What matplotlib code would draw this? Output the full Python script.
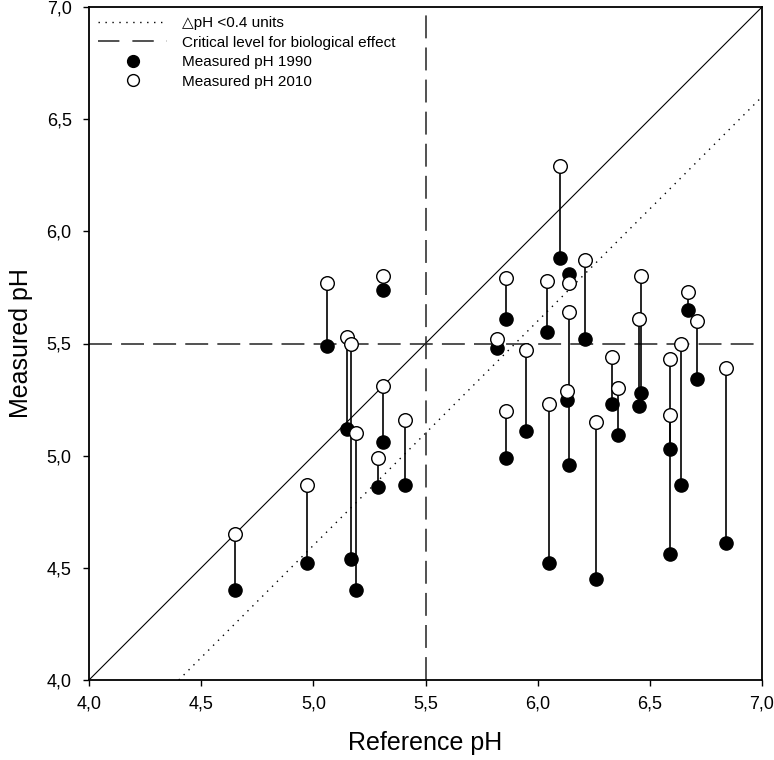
import matplotlib
matplotlib.use("Agg")
import matplotlib.pyplot as plt
from matplotlib.lines import Line2D
from matplotlib.ticker import FuncFormatter
import numpy as np

plt.rcParams['font.family'] = ['Liberation Sans', 'DejaVu Sans']

# Data
ref_ph = [4.65, 4.97, 5.06, 5.15, 5.17, 5.19, 5.29, 5.31, 5.31, 5.41,
          5.82, 5.86, 5.86, 5.95, 6.04, 6.05, 6.10, 6.14, 6.14, 6.13,
          6.21, 6.26, 6.33, 6.36, 6.45, 6.46, 6.59, 6.59, 6.64, 6.67,
          6.71, 6.84]
ph_1990 = [4.40, 4.52, 5.49, 5.12, 4.54, 4.40, 4.86, 5.06, 5.74, 4.87,
           5.48, 5.61, 4.99, 5.11, 5.55, 4.52, 5.88, 5.81, 4.96, 5.25,
           5.52, 4.45, 5.23, 5.09, 5.22, 5.28, 5.03, 4.56, 4.87, 5.65,
           5.34, 4.61]
ph_2010 = [4.65, 4.87, 5.77, 5.53, 5.50, 5.10, 4.99, 5.31, 5.80, 5.16,
           5.52, 5.79, 5.20, 5.47, 5.78, 5.23, 6.29, 5.77, 5.64, 5.29,
           5.87, 5.15, 5.44, 5.30, 5.61, 5.80, 5.43, 5.18, 5.50, 5.73,
           5.60, 5.39]

critical_level = 5.5
delta_ph = 0.4
axis_range = [4.0, 7.0]
tick_values = [4.0, 4.5, 5.0, 5.5, 6.0, 6.5, 7.0]

fig = plt.figure(figsize=(7.74, 7.60), dpi=100)
ax = fig.add_axes([89 / 774, 1 - 680 / 760, 673 / 774, 673 / 760])

# reference lines
x_line = np.array(axis_range)
ax.plot(x_line, x_line, color='black', lw=0.8, zorder=1)
x_dot = np.array([axis_range[0] + delta_ph, axis_range[1]])
ax.plot(x_dot, x_dot - delta_ph, color='black', lw=1.0,
        linestyle=(0, (1, 4)), zorder=1)
ax.axhline(critical_level, color='#222222', lw=1.1, dashes=(15, 6), zorder=1)
ax.axvline(critical_level, color='#222222', lw=1.1, dashes=(15, 6), zorder=1)

# stems and markers
ax.vlines(ref_ph, ph_1990, ph_2010, color='black', lw=1.2, zorder=2)
ax.plot(ref_ph, ph_1990, linestyle='none', marker='o', markersize=9.5,
        markerfacecolor='black', markeredgecolor='black', zorder=3)
ax.plot(ref_ph, ph_2010, linestyle='none', marker='o', markersize=9.8,
        markerfacecolor='white', markeredgecolor='black', markeredgewidth=1.0,
        zorder=4)

ax.set_xlim(axis_range)
ax.set_ylim(axis_range)
ax.set_xticks(tick_values)
ax.set_yticks(tick_values)
fmt = FuncFormatter(lambda v, p: f"{v:.1f}".replace('.', ','))
ax.xaxis.set_major_formatter(fmt)
ax.yaxis.set_major_formatter(fmt)
ax.tick_params(direction='out', length=4.5, width=1.0, labelsize=13,
               colors='black')
ax.tick_params(axis='x', pad=7)
ax.tick_params(axis='y', pad=8)
for s in ax.spines.values():
    s.set_linewidth(1.3)

ax.set_xlabel('Reference pH', fontsize=18, labelpad=13)
ax.set_ylabel('Measured pH', fontsize=18, labelpad=10)

handles = [
    Line2D([], [], color='black', lw=1.0, linestyle=(0, (1, 4))),
    Line2D([], [], color='#222222', lw=1.1, dashes=(14, 8.5)),
    Line2D([], [], linestyle='none', marker='o', markersize=8.5,
           markerfacecolor='black', markeredgecolor='black'),
    Line2D([], [], linestyle='none', marker='o', markersize=8.5,
           markerfacecolor='white', markeredgecolor='black'),
]
labels = ['\u25b3pH <0.4 units', 'Critical level for biological effect',
          'Measured pH 1990', 'Measured pH 2010']
ax.legend(handles, labels, loc='upper left', bbox_to_anchor=(0, 1),
          frameon=False, fontsize=11, handlelength=4.5, handletextpad=1.0,
          borderpad=0.6, borderaxespad=0, labelspacing=0.36)

fig.savefig('out.png', dpi=100)
